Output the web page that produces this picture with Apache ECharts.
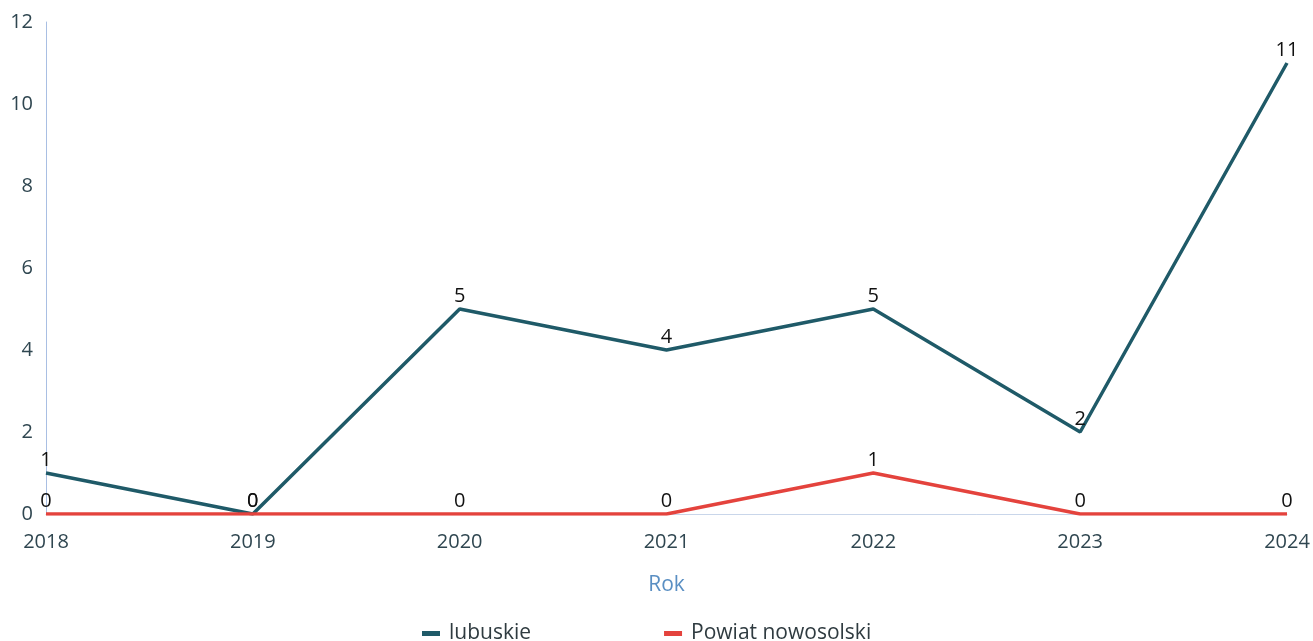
<!DOCTYPE html>
<html><head><meta charset="utf-8">
<script src="https://cdn.jsdelivr.net/npm/echarts@6/dist/echarts.min.js"></script>
<style>html,body{margin:0;padding:0;background:#fff}#c{width:1313px;height:641px}</style>
</head><body><div id="c"></div>
<script>
const years = ['2018','2019','2020','2021','2022','2023','2024'];
const lubuskie = [1,0,5,4,5,2,11];
const powiat = [0,0,0,0,1,0,0];
const seriesNames = ['lubuskie','Powiat nowosolski'];
const chart = echarts.init(document.getElementById('c'));
const font = '"Open Sans", "Noto Sans", sans-serif';
chart.setOption({
  animation:false,
  textStyle:{fontFamily:font},
  grid:{left:46,right:26,top:22,bottom:127,containLabel:false},
  legend:{bottom:-8,left:417,itemGap:133,itemWidth:18,itemHeight:5,icon:'rect',
    textStyle:{fontSize:21,color:'#2f3b40',fontFamily:font,padding:[0,0,0,4]},data:seriesNames},
  xAxis:{type:'category',data:years,boundaryGap:false,name:'Rok',nameLocation:'middle',nameGap:61,
    nameTextStyle:{color:'#5a8fc3',fontSize:21,fontFamily:font},
    axisLine:{lineStyle:{color:'#c9d6ea',width:1}},axisTick:{show:false},
    axisLabel:{color:'#2f4650',fontSize:20,margin:18,fontFamily:font}},
  yAxis:{type:'value',min:0,max:12,interval:2,
    axisLine:{show:true,lineStyle:{color:'#a9bfe3',width:1}},axisTick:{show:false},splitLine:{show:false},
    axisLabel:{color:'#2f4650',fontSize:20,margin:13,fontFamily:font}},
  series:[
    {name:seriesNames[0],type:'line',data:lubuskie,symbol:'circle',symbolSize:0.01,showSymbol:true,
      lineStyle:{width:3.5,color:'#1f5a68'},itemStyle:{color:'#1f5a68'},
      label:{show:true,position:'top',distance:3,color:'#111',fontSize:20,fontFamily:font}},
    {name:seriesNames[1],type:'line',data:powiat,symbol:'circle',symbolSize:0.01,showSymbol:true,
      lineStyle:{width:3.5,color:'#e4433d'},itemStyle:{color:'#e4433d'},
      label:{show:true,position:'top',distance:3,color:'#111',fontSize:20,fontFamily:font}}
  ]
});
</script></body></html>
